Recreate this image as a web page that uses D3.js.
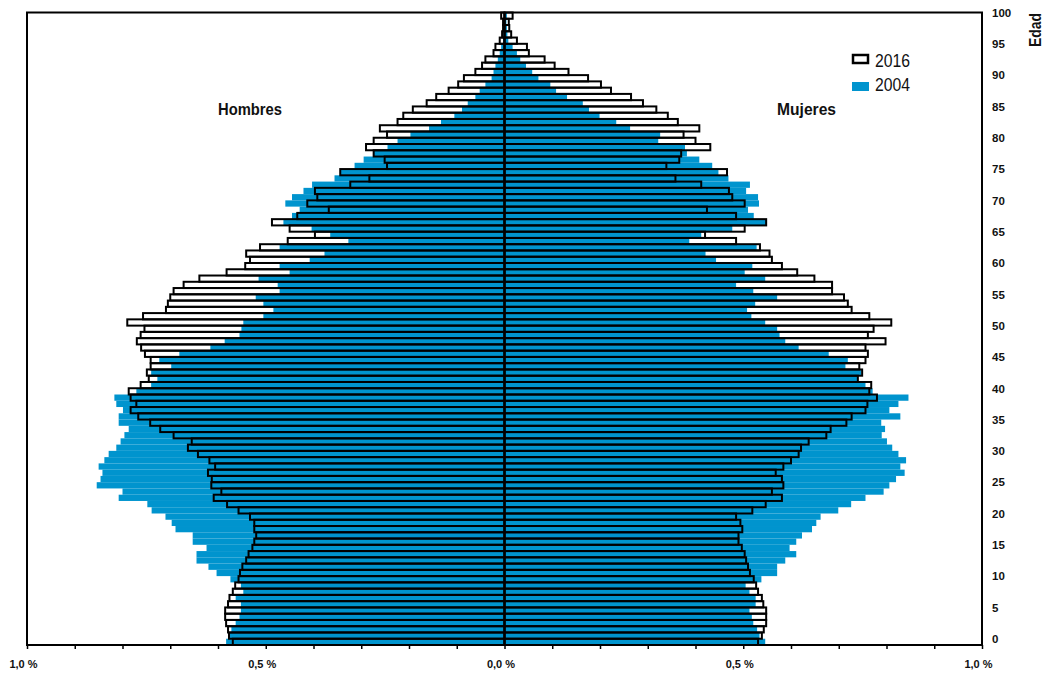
<!DOCTYPE html>
<html>
<head>
<meta charset="utf-8">
<script src="https://cdn.jsdelivr.net/npm/d3@7"></script>
<style>
  body { margin: 0; background: #fff; }
  svg { display: block; }
  .axis text { font-family: "Liberation Sans", Arial, sans-serif; font-weight: bold; font-size: 11px; fill: #111; }
  .big { font-family: "Liberation Sans Narrow", "Arial Narrow", "Liberation Sans", sans-serif; fill: #111; }
</style>
</head>
<body>
<div id="chart"></div>
<script>
// ages 0..100, share of total population in %
var ages = d3.range(0, 101);

var men2016 = [
  0.569, 0.577, 0.579, 0.583, 0.585, 0.585, 0.579, 0.576, 0.569, 0.564,
  0.557, 0.554, 0.549, 0.541, 0.536, 0.528, 0.524, 0.520, 0.524, 0.524,
  0.533, 0.557, 0.581, 0.609, 0.593, 0.614, 0.613, 0.621, 0.606, 0.618,
  0.642, 0.663, 0.655, 0.693, 0.721, 0.742, 0.767, 0.783, 0.771, 0.783,
  0.787, 0.762, 0.745, 0.749, 0.741, 0.741, 0.753, 0.761, 0.770, 0.762,
  0.754, 0.790, 0.757, 0.709, 0.705, 0.700, 0.693, 0.672, 0.639, 0.582,
  0.543, 0.533, 0.541, 0.512, 0.454, 0.397, 0.450, 0.487, 0.434, 0.368,
  0.413, 0.392, 0.397, 0.323, 0.283, 0.344, 0.246, 0.251, 0.274, 0.290,
  0.274, 0.246, 0.261, 0.224, 0.212, 0.192, 0.163, 0.143, 0.117, 0.097,
  0.085, 0.061, 0.047, 0.040, 0.023, 0.019, 0.010, 0.005, 0.003, 0.003,
  0.007
];

var men2004 = [
  0.583, 0.576, 0.572, 0.563, 0.555, 0.552, 0.552, 0.563, 0.547, 0.552,
  0.574, 0.603, 0.620, 0.645, 0.645, 0.624, 0.653, 0.653, 0.689, 0.697,
  0.710, 0.739, 0.748, 0.808, 0.800, 0.854, 0.846, 0.842, 0.850, 0.838,
  0.829, 0.813, 0.804, 0.796, 0.787, 0.808, 0.808, 0.799, 0.813, 0.817,
  0.771, 0.740, 0.727, 0.740, 0.698, 0.723, 0.681, 0.616, 0.586, 0.555,
  0.551, 0.547, 0.505, 0.484, 0.505, 0.521, 0.471, 0.475, 0.515, 0.450,
  0.471, 0.408, 0.377, 0.471, 0.327, 0.365, 0.404, 0.463, 0.445, 0.429,
  0.459, 0.445, 0.421, 0.403, 0.356, 0.344, 0.314, 0.295, 0.274, 0.245,
  0.224, 0.197, 0.158, 0.133, 0.105, 0.089, 0.077, 0.061, 0.052, 0.040,
  0.027, 0.023, 0.019, 0.014, 0.010, 0.007, 0.003, 0.002, 0.002, 0.001,
  0.001
];

var women2016 = [
  0.531, 0.539, 0.543, 0.548, 0.548, 0.548, 0.542, 0.539, 0.531, 0.527,
  0.522, 0.514, 0.510, 0.506, 0.503, 0.497, 0.490, 0.490, 0.498, 0.494,
  0.485, 0.519, 0.547, 0.581, 0.560, 0.584, 0.581, 0.568, 0.584, 0.600,
  0.616, 0.621, 0.637, 0.674, 0.683, 0.716, 0.727, 0.756, 0.760, 0.780,
  0.764, 0.768, 0.740, 0.749, 0.743, 0.756, 0.761, 0.756, 0.798, 0.761,
  0.773, 0.810, 0.764, 0.727, 0.719, 0.711, 0.686, 0.686, 0.649, 0.613,
  0.581, 0.560, 0.555, 0.535, 0.485, 0.420, 0.503, 0.548, 0.485, 0.424,
  0.503, 0.477, 0.470, 0.412, 0.358, 0.466, 0.339, 0.366, 0.370, 0.431,
  0.400, 0.375, 0.408, 0.363, 0.342, 0.318, 0.290, 0.265, 0.223, 0.202,
  0.175, 0.134, 0.105, 0.084, 0.051, 0.047, 0.026, 0.014, 0.010, 0.009,
  0.017
];

var women2004 = [
  0.546, 0.534, 0.529, 0.521, 0.518, 0.513, 0.526, 0.526, 0.513, 0.505,
  0.538, 0.571, 0.571, 0.588, 0.611, 0.597, 0.611, 0.623, 0.644, 0.653,
  0.662, 0.699, 0.726, 0.756, 0.794, 0.806, 0.820, 0.838, 0.829, 0.841,
  0.825, 0.812, 0.801, 0.790, 0.797, 0.789, 0.829, 0.806, 0.825, 0.846,
  0.771, 0.756, 0.740, 0.747, 0.714, 0.719, 0.679, 0.616, 0.588, 0.576,
  0.571, 0.546, 0.517, 0.508, 0.525, 0.571, 0.521, 0.485, 0.546, 0.503,
  0.519, 0.443, 0.421, 0.528, 0.387, 0.412, 0.477, 0.548, 0.522, 0.510,
  0.533, 0.531, 0.506, 0.514, 0.469, 0.448, 0.435, 0.408, 0.382, 0.378,
  0.322, 0.326, 0.263, 0.234, 0.199, 0.177, 0.164, 0.131, 0.108, 0.096,
  0.071, 0.058, 0.045, 0.033, 0.026, 0.017, 0.008, 0.006, 0.005, 0.004,
  0.005
];

var xTicks = d3.range(-10, 11).map(d => d / 10);
var xLabels = {"-1": "1,0 %", "-0.5": "0,5 %", "0": "0,0 %", "0.5": "0,5 %", "1": "1,0 %"};
var ageTicks = d3.range(0, 101, 5);
var years = ["2016", "2004"];

var blue = "#0094ce";
var svgWidth = 1049, svgHeight = 673;

var svg = d3.select("#chart").append("svg")
  .attr("width", svgWidth)
  .attr("height", svgHeight);

// scales
var xScale = d3.scaleLinear().domain([-1, 1]).range([27, 982]);
var yScale = d3.scaleBand().domain(ages.slice().reverse()).range([12.5, 645]).padding(0);

// one row per age and sex
var rows16 = [], rows04 = [];
ages.forEach(function(a, i) {
  rows16.push({age: a, v: -men2016[i]}, {age: a, v: women2016[i]});
  rows04.push({age: a, v: -men2004[i]}, {age: a, v: women2004[i]});
});

function barX(d) { return xScale(Math.min(0, d.v)); }
function barW(d) { return Math.abs(xScale(d.v) - xScale(0)); }

// 2016 white fill underneath
svg.append("g").selectAll("rect")
  .data(rows16).enter().append("rect")
  .attr("x", barX).attr("y", d => yScale(d.age))
  .attr("width", barW).attr("height", yScale.bandwidth())
  .attr("fill", "#fff");

// 2004 blue bars
svg.append("g").selectAll("rect")
  .data(rows04).enter().append("rect")
  .attr("x", barX).attr("y", d => yScale(d.age))
  .attr("width", barW).attr("height", yScale.bandwidth())
  .attr("fill", blue);

// 2016 outlines on top
svg.append("g").selectAll("rect")
  .data(rows16).enter().append("rect")
  .attr("x", barX).attr("y", d => yScale(d.age))
  .attr("width", barW).attr("height", yScale.bandwidth())
  .attr("fill", "none")
  .attr("stroke", "#000")
  .attr("stroke-width", 2);

// centre line
svg.append("line")
  .attr("x1", xScale(0)).attr("x2", xScale(0))
  .attr("y1", 12.5).attr("y2", 645)
  .attr("stroke", "#000").attr("stroke-width", 2);

// frame
svg.append("rect")
  .attr("x", 27).attr("y", 12.5)
  .attr("width", 982 - 27).attr("height", 645 - 12.5)
  .attr("fill", "none").attr("stroke", "#000").attr("stroke-width", 2);

// bottom axis
var xAxis = d3.axisBottom(xScale)
  .tickValues(xTicks)
  .tickSize(4)
  .tickSizeOuter(0)
  .tickFormat(d => xLabels[String(Math.round(d * 10) / 10)] || "");

var gx = svg.append("g")
  .attr("class", "axis")
  .attr("transform", "translate(0,645)")
  .call(xAxis);
gx.select(".domain").remove();
gx.selectAll(".tick line").attr("stroke", "#000").attr("stroke-width", 1.5);
gx.selectAll(".tick text").attr("y", 15).attr("dx", -4);

// right axis (ages)
var yAxis = d3.axisRight(yScale)
  .tickValues(ageTicks)
  .tickSize(0)
  .tickPadding(10);

var gy = svg.append("g")
  .attr("class", "axis")
  .attr("transform", "translate(982,0)")
  .call(yAxis);
gy.select(".domain").remove();
gy.selectAll(".tick text").attr("dy", "0.1em").style("font-size", "11.5px");

// narrow-looking labels: squeeze to the reference widths
function narrowText(x, y, size, bold, width, txt, anchor) {
  return svg.append("text").attr("class", "big")
    .attr("x", x).attr("y", y)
    .attr("text-anchor", anchor || "middle")
    .attr("textLength", width)
    .attr("lengthAdjust", "spacingAndGlyphs")
    .style("font-size", size + "px")
    .style("font-weight", bold ? "bold" : "normal")
    .text(txt);
}

narrowText(0, 0, 16, true, 34, "Edad")
  .attr("transform", "translate(1041,30) rotate(-90)");

// sex labels
narrowText(250, 115, 17, true, 64, "Hombres");
narrowText(806.5, 115, 17, true, 59, "Mujeres");

// legend
var legend = svg.append("g").attr("transform", "translate(852,52)");
legend.selectAll("rect")
  .data(years).enter().append("rect")
  .attr("x", d => d === "2016" ? 1 : 0)
  .attr("y", (d, i) => i ? 30 : 3)
  .attr("width", d => d === "2016" ? 15 : 17)
  .attr("height", d => d === "2016" ? 8 : 9)
  .attr("fill", d => d === "2016" ? "#fff" : blue)
  .attr("stroke", d => d === "2016" ? "#000" : "none")
  .attr("stroke-width", 2.5);

years.forEach(function(y, i) {
  narrowText(875, 67 + i * 24, 19, false, 35, y, "start");
});
</script>
</body>
</html>
